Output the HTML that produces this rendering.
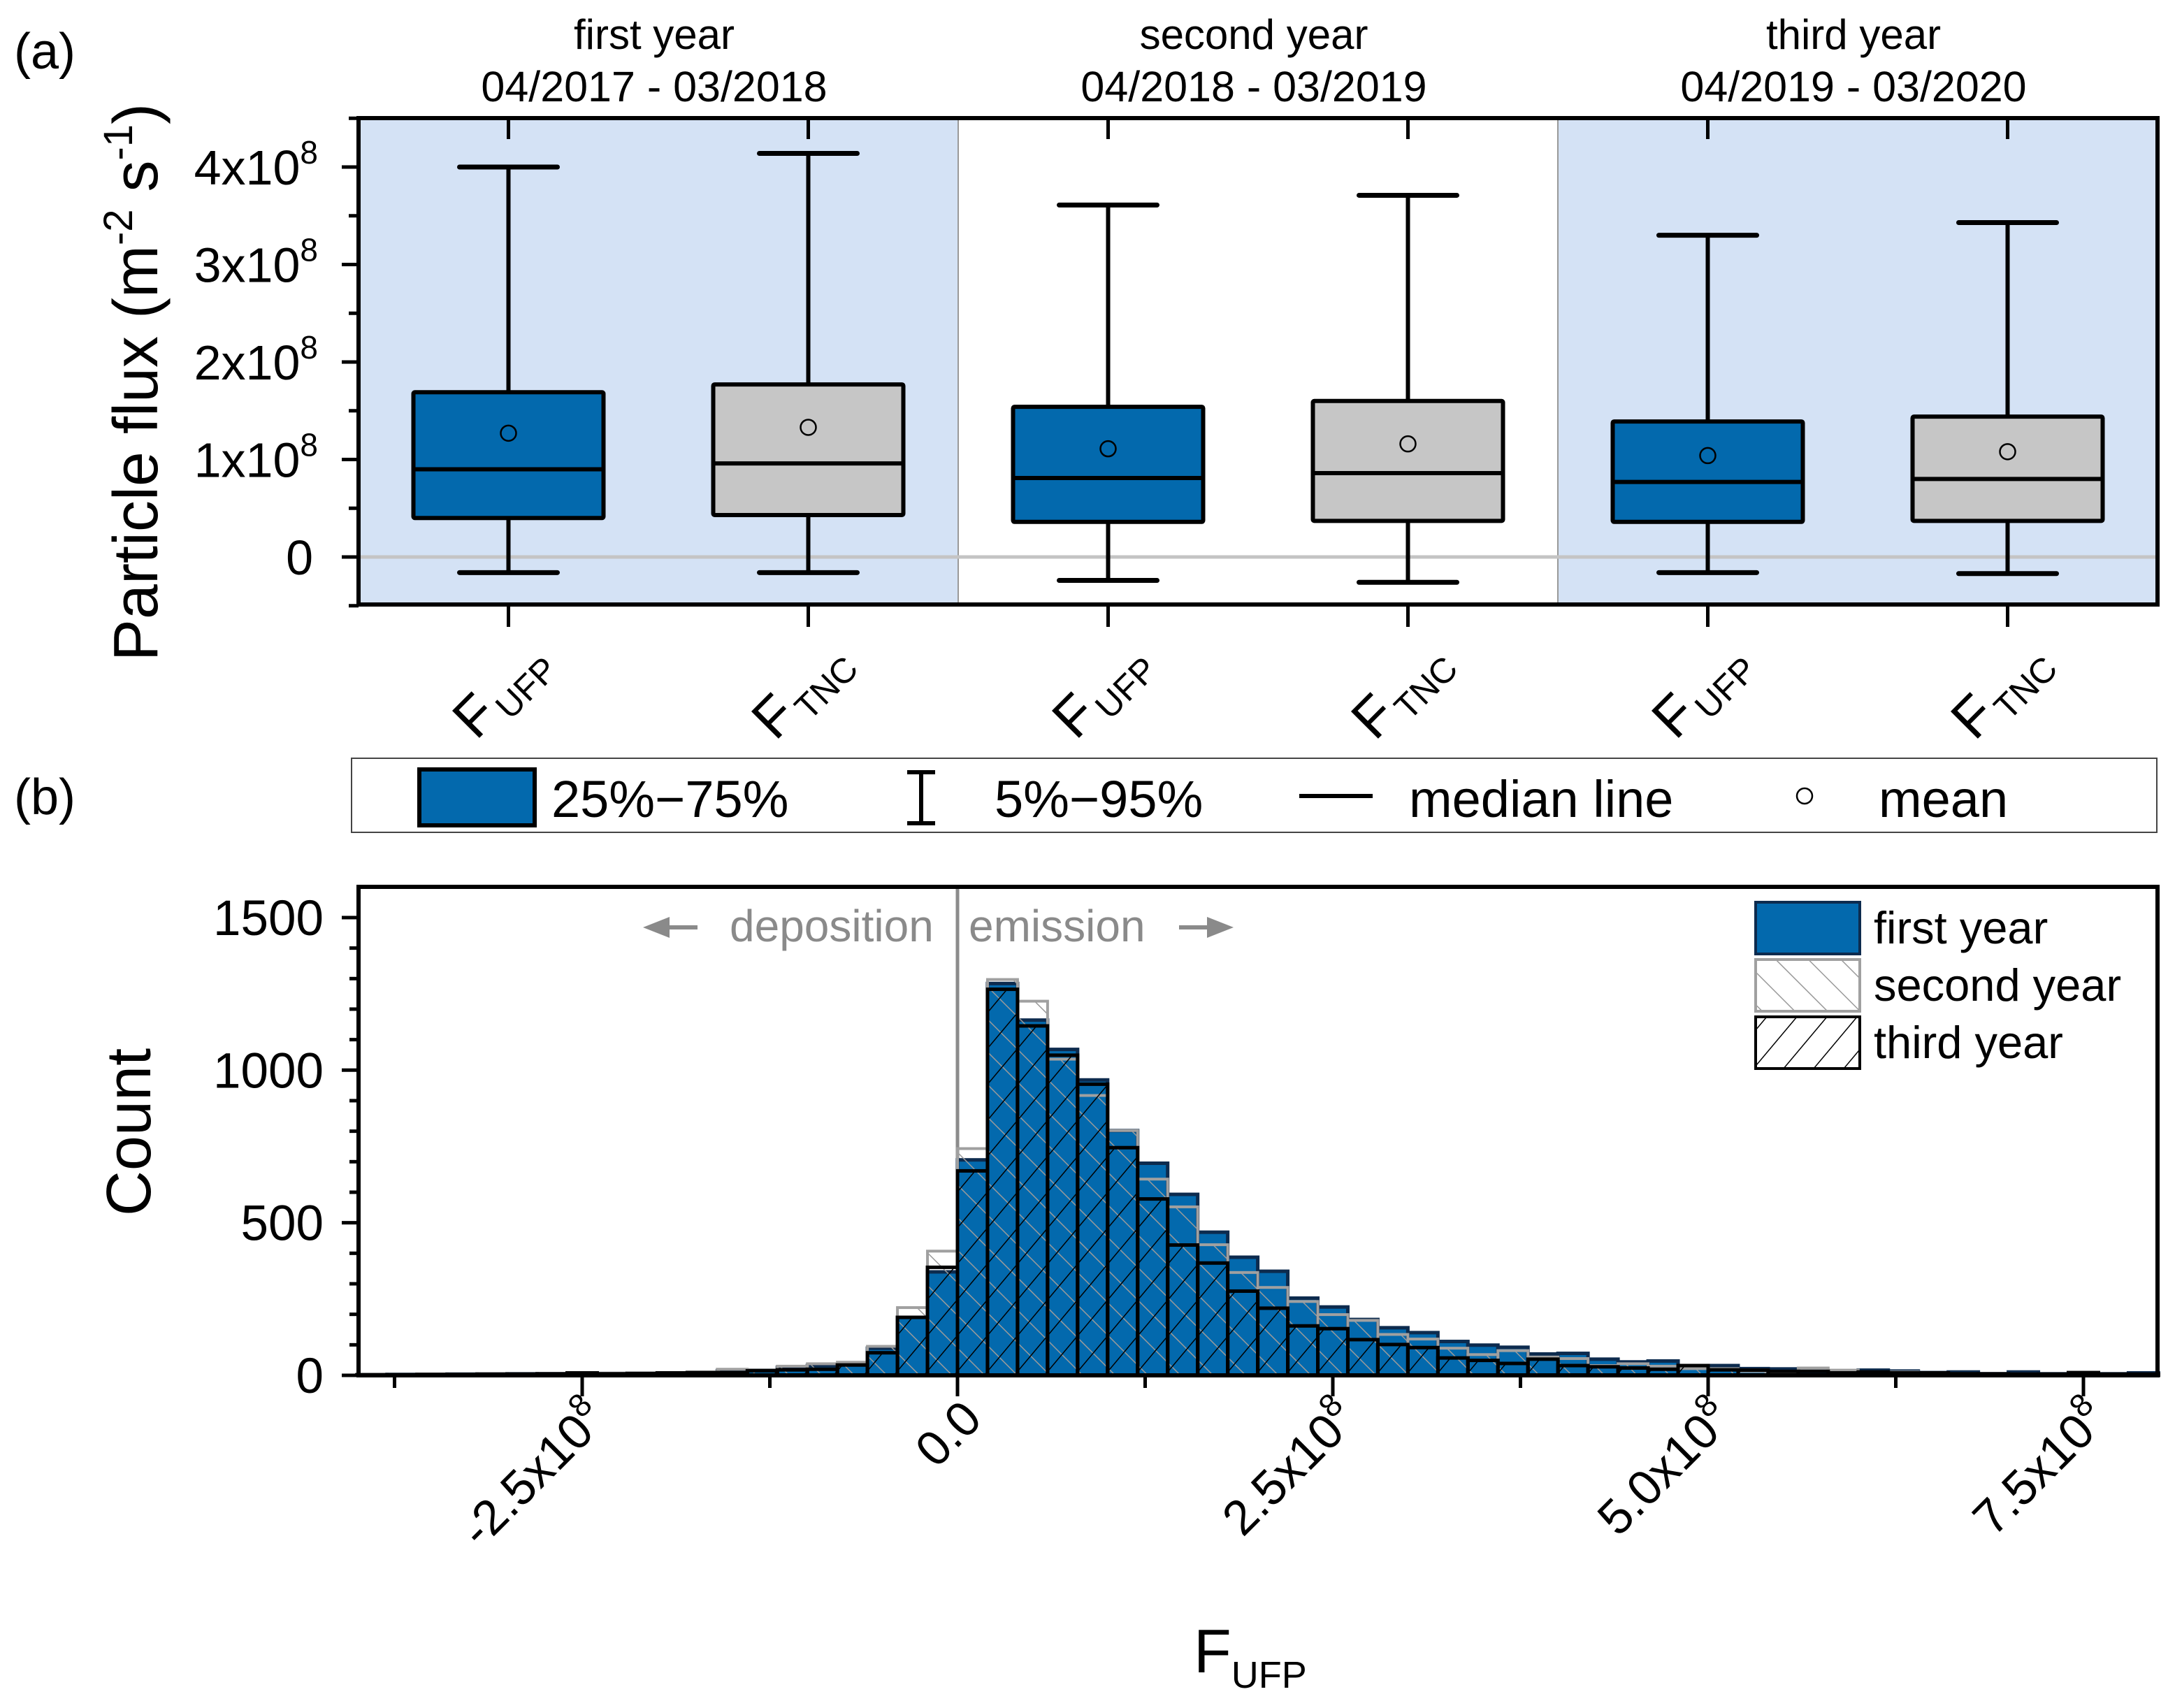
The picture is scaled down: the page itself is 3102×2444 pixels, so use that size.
<!DOCTYPE html>
<html><head><meta charset="utf-8"><style>
html,body{margin:0;padding:0;background:#fff}
svg{display:block}
text{font-family:"Liberation Sans",Arial,sans-serif}
</style></head><body>
<svg id="fig" xmlns="http://www.w3.org/2000/svg" width="3102" height="2444" viewBox="0 0 3102 2444">
<defs>
<pattern id="hatch2" patternUnits="userSpaceOnUse" width="33" height="33" patternTransform="rotate(-45)"><line x1="0" y1="0" x2="0" y2="33" stroke="#9a9a9a" stroke-width="3"/></pattern>
<pattern id="hatch3" patternUnits="userSpaceOnUse" width="33" height="33" patternTransform="rotate(40)"><line x1="0" y1="0" x2="0" y2="33" stroke="#000" stroke-width="3"/></pattern>
</defs>
<rect x="0" y="0" width="3102" height="2444" fill="#fff"/>
<g id="panelA"></g>
<g id="panelB"></g>
<text x="20" y="98" font-size="72">(a)</text>
<text x="20" y="1165" font-size="72">(b)</text>
<g>
<rect x="503" y="1085" width="2583" height="106" fill="#fff" stroke="#444" stroke-width="2"/>
<rect x="600" y="1101" width="165" height="80" fill="#0369ad" stroke="#000" stroke-width="6"/>
<text x="789" y="1169" font-size="74">25%−75%</text>
<g stroke="#000" stroke-width="6"><line x1="1318" y1="1105" x2="1318" y2="1178"/><line x1="1298" y1="1105" x2="1338" y2="1105"/><line x1="1298" y1="1178" x2="1338" y2="1178"/></g>
<text x="1423" y="1169" font-size="74">5%−95%</text>
<line x1="1859" y1="1139" x2="1964" y2="1139" stroke="#000" stroke-width="6"/>
<text x="2016" y="1169" font-size="74">median line</text>
<circle cx="2582" cy="1139" r="11" fill="none" stroke="#000" stroke-width="2.5"/>
<text x="2688" y="1169" font-size="74">mean</text>
</g>
</svg>
<script>
// ---------- Panel (a) box plot data ----------
const boxCategories = ["UFP","TNC","UFP","TNC","UFP","TNC"];
const boxWhiskerLow = [-0.16,-0.16,-0.24,-0.26,-0.16,-0.17];
const boxQ1 = [0.40,0.43,0.36,0.37,0.36,0.37];
const boxMedian = [0.90,0.96,0.81,0.86,0.77,0.80];
const boxQ3 = [1.69,1.77,1.54,1.60,1.39,1.44];
const boxWhiskerHigh = [4.00,4.14,3.61,3.71,3.30,3.43];
const boxMean = [1.27,1.33,1.11,1.16,1.04,1.08];
const yearTitles = ["first year","second year","third year"];
const yearRanges = ["04/2017 - 03/2018","04/2018 - 03/2019","04/2019 - 03/2020"];
const boxYTicks = [0,1,2,3,4];

// ---------- Panel (b) histogram data (bins of 0.2x10^8 starting at -4.0x10^8) ----------
const binStart = -4.0;
const binWidth = 0.2;
const countsYear1 = [2,3,3,4,4,5,5,6,6,7,8,9,15,17,26,32,34,89,190,339,706,1284,1164,1068,968,802,695,593,469,387,341,253,224,183,156,140,111,99,92,70,72,53,44,47,24,32,22,21,13,9,17,14,9,11,5,11,5,6,5,8];
const countsYear2 = [3,3,4,4,5,5,6,6,7,8,8,11,20,18,30,38,43,95,222,407,743,1297,1226,1036,917,802,643,552,428,337,288,242,199,180,134,119,89,68,81,60,55,32,38,30,22,22,13,5,24,17,9,11,9,5,5,4,4,3,3,3];
const countsYear3 = [2,2,3,3,4,4,5,8,5,6,8,9,9,15,18,20,34,74,190,354,670,1265,1145,1049,954,746,578,427,368,276,220,162,153,117,101,91,57,49,39,53,32,28,24,20,32,18,17,13,13,8,11,8,8,5,5,4,4,9,4,4];
const histYTicks = [0,500,1000,1500];
const histXTicks = [-2.5,0,2.5,5,7.5];
const histXTickLabels = ["-2.5x10","0.0","2.5x10","5.0x10","7.5x10"];
const legendYears = ["first year","second year","third year"];

const NS = "http://www.w3.org/2000/svg";
function mk(tag, attrs, parent){
  const e = document.createElementNS(NS, tag);
  for (const k in attrs) e.setAttribute(k, attrs[k]);
  parent.appendChild(e);
  return e;
}

// ===== Panel A =====
const A = document.getElementById("panelA");
const aL = 513, aR = 3087, aT = 169, aB = 865, aZero = 797, aPer = 139.5;
const ay = v => aZero - v * aPer;
const catW = (aR - aL) / 6;
const ax = i => aL + (i + 0.5) * catW;

for (let g = 0; g < 3; g++) {
  const x0 = aL + g * 2 * catW;
  if (g !== 1) {
    const bg = mk("rect", {x: x0, y: aT, width: 2 * catW, height: aB - aT, fill: "#d4e2f5"}, A);
    
    
  }
  const t1 = mk("text", {x: x0 + catW - 6, y: 70, "font-size": 60, "text-anchor": "middle"}, A);
  t1.textContent = yearTitles[g];
  
  
  const t2 = mk("text", {x: x0 + catW - 6, y: 145, "font-size": 61, "text-anchor": "middle"}, A);
  t2.textContent = yearRanges[g];
  
  
}
for (let g = 1; g < 3; g++) {
  const d = mk("line", {x1: aL + g * 2 * catW, x2: aL + g * 2 * catW, y1: aT, y2: aB, stroke: "#999", "stroke-width": 2}, A);
  
  
}
const zl = mk("line", {x1: aL, x2: aR, y1: ay(0), y2: ay(0), stroke: "#c4c4c4", "stroke-width": 5}, A);



for (let i = 0; i < boxCategories.length; i++) {
  const cx = ax(i), bw = 272, cw = 140;
  const fill = i % 2 === 0 ? "#0369ad" : "#c6c6c6";
  const wh = mk("line", {x1: cx, x2: cx, y1: ay(boxWhiskerHigh[i]), y2: ay(boxWhiskerLow[i]), stroke: "#000", "stroke-width": 6}, A);
  
  
  const c1 = mk("line", {x1: cx - cw/2, x2: cx + cw/2, y1: ay(boxWhiskerHigh[i]), y2: ay(boxWhiskerHigh[i]), stroke: "#000", "stroke-width": 7, "stroke-linecap": "round"}, A);
  
  
  const c2 = mk("line", {x1: cx - cw/2, x2: cx + cw/2, y1: ay(boxWhiskerLow[i]), y2: ay(boxWhiskerLow[i]), stroke: "#000", "stroke-width": 7, "stroke-linecap": "round"}, A);
  
  
  const bx = mk("rect", {x: cx - bw/2, y: ay(boxQ3[i]), width: bw, height: ay(boxQ1[i]) - ay(boxQ3[i]), fill: fill, stroke: "#000", "stroke-width": 6, rx: 2}, A);
  
  
  const md = mk("line", {x1: cx - bw/2, x2: cx + bw/2, y1: ay(boxMedian[i]), y2: ay(boxMedian[i]), stroke: "#000", "stroke-width": 6}, A);
  
  
  const mn = mk("circle", {cx: cx, cy: ay(boxMean[i]), r: 11, fill: "none", stroke: "#000", "stroke-width": 2.5}, A);
  
  
  const tt = mk("line", {x1: cx, x2: cx, y1: aT, y2: aT + 30, stroke: "#000", "stroke-width": 5}, A);
  
  
  const bt = mk("line", {x1: cx, x2: cx, y1: aB, y2: aB + 32, stroke: "#000", "stroke-width": 5}, A);
  
  
  const lbl = mk("text", {x: cx - 8, y: 1006, "text-anchor": "middle", transform: `rotate(-45 ${cx} 986)`}, A);
  
  
  const f = mk("tspan", {"font-size": 80}, lbl); f.textContent = "F";
  const s = mk("tspan", {"font-size": 50, dy: 14, dx: 6}, lbl); s.textContent = boxCategories[i];
}
for (let v = -0.5; v <= 4.51; v += 0.5) {
  const major = Math.abs(v - Math.round(v)) < 1e-6;
  const t = mk("line", {x1: aL - (major ? 24 : 14), x2: aL, y1: ay(v), y2: ay(v), stroke: "#000", "stroke-width": 5}, A);
  
  
}
boxYTicks.forEach(v => {
  const t = mk("text", {x: v === 0 ? 448 : 455, y: ay(v) + 25, "font-size": 70, "text-anchor": "end"}, A);
  
  
  if (v === 0) { t.textContent = "0"; }
  else {
    const a = mk("tspan", {}, t); a.textContent = v + "x10";
    const b = mk("tspan", {"font-size": 46, dy: -30}, t); b.textContent = "8";
  }
});
const frameA = mk("rect", {x: aL, y: aT, width: aR - aL, height: aB - aT, fill: "none", stroke: "#000", "stroke-width": 6}, A);


const yTitle = mk("text", {x: 0, y: 0, "font-size": 90, "text-anchor": "middle", transform: "translate(225 547) rotate(-90)"}, A);


[["Particle flux (m",0,90],["-2",-36,58],[" s",36,90],["-1",-36,58],[")",36,90]].forEach(p => {
  const ts = mk("tspan", {dy: p[1], "font-size": p[2]}, yTitle); ts.textContent = p[0];
});

// ===== Panel B =====
const B = document.getElementById("panelB");
const bL = 513, bR = 3087, bT = 1269, bB = 1968, bZeroX = 1370, bPerX = 214.8, bPerY = 0.4367;
const hx = v => bZeroX + v * bPerX;
const hy = c => bB - c * bPerY;

const vline = mk("line", {x1: hx(0), x2: hx(0), y1: bT, y2: bB, stroke: "#8c8c8c", "stroke-width": 5}, B);



function drawSeries(arr, fill, stroke, sw, name) {
  arr.forEach((c, i) => {
    const x0 = hx(binStart + i * binWidth), x1 = hx(binStart + (i + 1) * binWidth);
    const r = mk("rect", {x: x0, y: hy(c), width: x1 - x0, height: hy(0) - hy(c), fill: fill, stroke: stroke, "stroke-width": sw}, B);
    
    
  });
}
drawSeries(countsYear1, "#0369ad", "#0d2b4e", 5, "bar-first-year");
drawSeries(countsYear2, "url(#hatch2)", "#a0a0a0", 4, "bar-second-year");
drawSeries(countsYear3, "url(#hatch3)", "#000", 5, "bar-third-year");

const frameB = mk("rect", {x: bL, y: bT, width: bR - bL, height: bB - bT, fill: "none", stroke: "#000", "stroke-width": 6}, B);



for (let c = 0; c <= 1500; c += 100) {
  const major = c % 500 === 0;
  const t = mk("line", {x1: bL - (major ? 24 : 13), x2: bL, y1: hy(c), y2: hy(c), stroke: "#000", "stroke-width": 5}, B);
  
  
}
histYTicks.forEach(c => {
  const t = mk("text", {x: 463, y: hy(c) + 25, "font-size": 71, "text-anchor": "end"}, B);
  t.textContent = String(c);
  
  
});
for (let v = -3.75; v <= 7.9; v += 1.25) {
  const major = Math.abs(v / 2.5 - Math.round(v / 2.5)) < 1e-6;
  const t = mk("line", {x1: hx(v), x2: hx(v), y1: bB, y2: bB + (major ? 30 : 18), stroke: "#000", "stroke-width": 5}, B);
  
  
}
histXTicks.forEach((v, i) => {
  const x = hx(v) + 38, y = 2034;
  const t = mk("text", {x: x, y: y, "font-size": 70, "text-anchor": "end", transform: `rotate(-45 ${x} ${y})`}, B);
  
  
  const a = mk("tspan", {}, t); a.textContent = histXTickLabels[i];
  if (v !== 0) { const b = mk("tspan", {"font-size": 46, dy: -30}, t); b.textContent = "8"; }
});
const cnt = mk("text", {x: 0, y: 0, "font-size": 90, "text-anchor": "middle", transform: "translate(215 1620) rotate(-90)"}, B);
cnt.textContent = "Count";


const xt = mk("text", {x: 1708, y: 2393, "font-size": 88}, B);


const xf = mk("tspan", {}, xt); xf.textContent = "F";
const xs = mk("tspan", {"font-size": 54, dy: 22}, xt); xs.textContent = "UFP";

const dep = mk("text", {x: 1044, y: 1347, "font-size": 64, fill: "#8a8a8a"}, B);
dep.textContent = "deposition";


const emi = mk("text", {x: 1386, y: 1347, "font-size": 64, fill: "#8a8a8a"}, B);
emi.textContent = "emission";


const arL = mk("path", {d: "M920 1327 L958 1312 L958 1324 L998 1324 L998 1330 L958 1330 L958 1342 Z", fill: "#8a8a8a"}, B);


const arR = mk("path", {d: "M1765 1327 L1727 1312 L1727 1324 L1687 1324 L1687 1330 L1727 1330 L1727 1342 Z", fill: "#8a8a8a"}, B);



const swFill = ["#0369ad", "url(#hatch2)", "url(#hatch3)"];
const swStroke = ["#0d2b4e", "#a0a0a0", "#000"];
legendYears.forEach((n, i) => {
  const y0 = 1291 + i * 82;
  const r = mk("rect", {x: 2512, y: y0, width: 149, height: 74, fill: swFill[i], stroke: swStroke[i], "stroke-width": 4}, B);
  
  
  const t = mk("text", {x: 2681, y: y0 + 59, "font-size": 65}, B);
  t.textContent = n;
  
  
});
</script>
</body></html>
